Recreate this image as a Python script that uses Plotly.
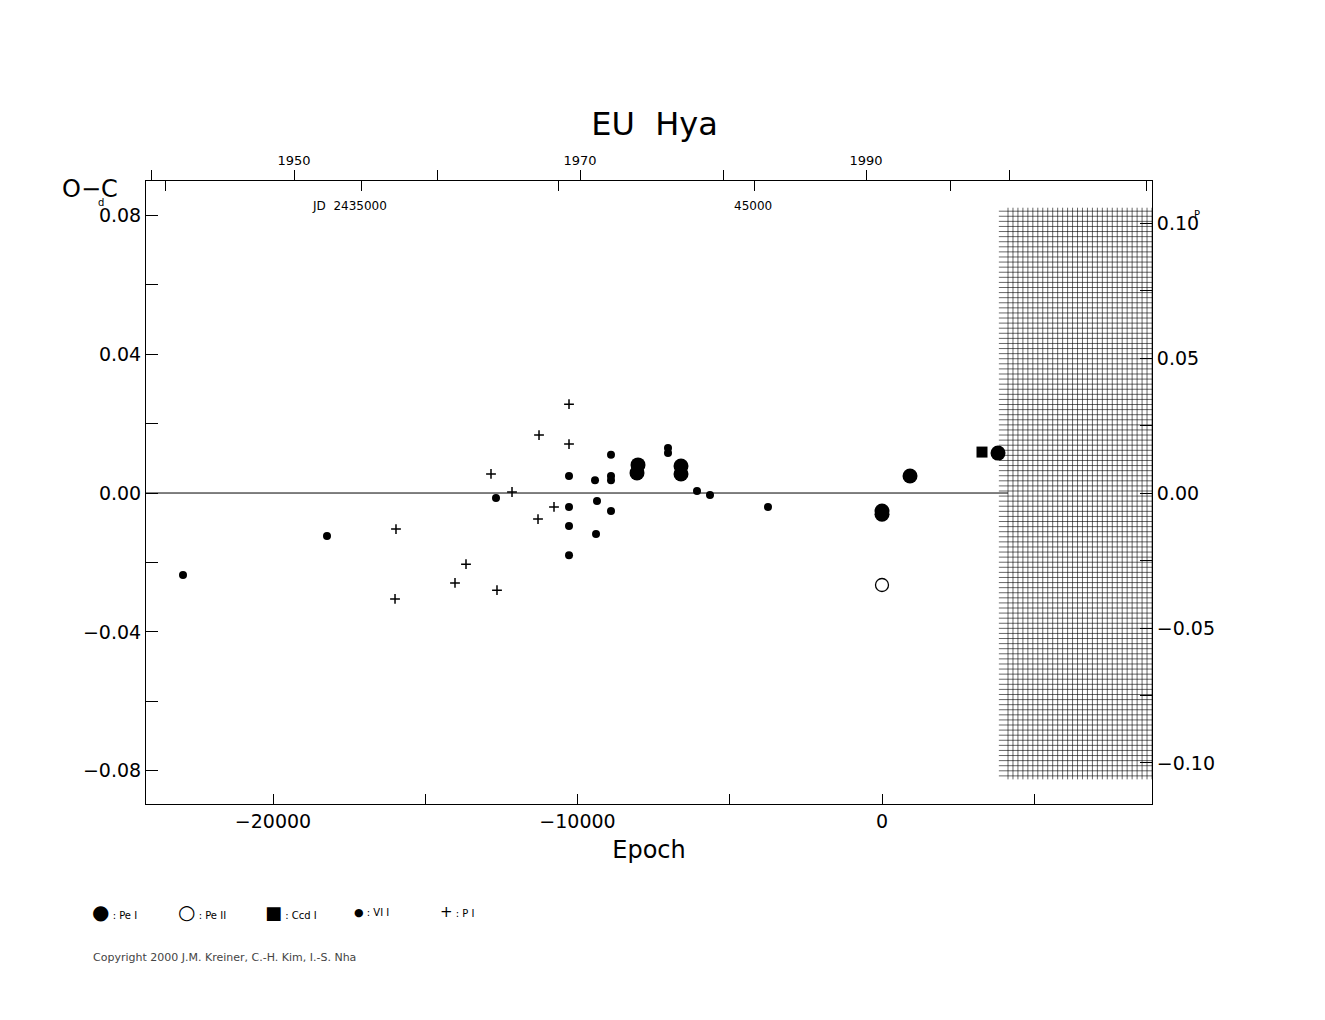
import numpy as np
import plotly.graph_objects as go

# O-C data, epoch vs O-C (days)
pe1_e = [-8046, -8013, -6601, -6601, 0, 0, 920, 3810]
pe1_oc = [0.0058, 0.0081, 0.0055, 0.0078, -0.0061, -0.0052, 0.0049, 0.0115]
pe2_e = [0]
pe2_oc = [-0.0265]
ccd_e = [3284]
ccd_oc = [0.0118]
vi_e = [-22956, -18227, -12677, -10279, -10279, -10279, -10279, -9425, -9360, -9392,
        -8900, -8900, -8900, -8900, -7028, -7028, -6076, -5649, -3744]
vi_oc = [-0.0236, -0.0124, -0.0014, 0.0049, -0.0040, -0.0095, -0.0179, 0.0037, -0.0023, -0.0118,
         0.0110, 0.0049, 0.0037, -0.0052, 0.0130, 0.0115, 0.0006, -0.0006, -0.0040]
p_e = [-10279, -10279, -11264, -12841, -12151, -10772, -11297, -15961, -13662, -14023, -12644, -15993]
p_oc = [0.0256, 0.0141, 0.0167, 0.0055, 0.0003, -0.0040, -0.0075, -0.0104, -0.0205, -0.0259, -0.0280, -0.0305]

xr = [-24171, 8867]
yr = [-0.0896, 0.0899]
font = "DejaVu Sans"

fig = go.Figure()

# hatched area (future epochs)
hx0, hx1, hy0, hy1 = 4138, 8867, -0.0815, 0.0812
gx, gy = [], []
for x in np.linspace(hx0, hx1, 30):
    gx += [x, x, None]; gy += [hy0 - 0.001, hy1 + 0.001, None]
for y in np.linspace(hy0, hy1, 112):
    gx += [hx0 - 300, hx1, None]; gy += [y, y, None]
fig.add_trace(go.Scatter(x=gx, y=gy, mode="lines", line=dict(color="black", width=0.6),
                         hoverinfo="skip", showlegend=False))

# zero line
fig.add_trace(go.Scatter(x=[xr[0], hx0], y=[0, 0], mode="lines", line=dict(color="black", width=1),
                         showlegend=False, hoverinfo="skip"))

fig.add_trace(go.Scatter(x=p_e, y=p_oc, mode="markers", name="P I",
                         marker=dict(symbol="cross-thin", size=7, line=dict(color="black", width=1.5))))
fig.add_trace(go.Scatter(x=vi_e, y=vi_oc, mode="markers", name="VI I",
                         marker=dict(symbol="circle", size=8, color="black")))
fig.add_trace(go.Scatter(x=pe1_e, y=pe1_oc, mode="markers", name="Pe I",
                         marker=dict(symbol="circle", size=15, color="black")))
fig.add_trace(go.Scatter(x=pe2_e, y=pe2_oc, mode="markers", name="Pe II",
                         marker=dict(symbol="circle-open", size=13, color="black", line=dict(width=1.3))))
fig.add_trace(go.Scatter(x=ccd_e, y=ccd_oc, mode="markers", name="Ccd I",
                         marker=dict(symbol="square", size=11, color="black")))

# secondary axes for years / JD / phase
fig.add_trace(go.Scatter(x=[1950], y=[0], xaxis="x2", yaxis="y", mode="markers", marker=dict(opacity=0), showlegend=False, hoverinfo="skip"))
fig.add_trace(go.Scatter(x=[2440000], y=[0], xaxis="x3", yaxis="y", mode="markers", marker=dict(opacity=0), showlegend=False, hoverinfo="skip"))
fig.add_trace(go.Scatter(x=[0], y=[0], xaxis="x", yaxis="y2", mode="markers", marker=dict(opacity=0), showlegend=False, hoverinfo="skip"))

axfont = dict(family=font, size=19, color="black")
fig.update_layout(
    width=1325, height=1020, plot_bgcolor="white", paper_bgcolor="white",
    margin=dict(l=138, r=181, t=173, b=224), showlegend=False,
    title=dict(text="EU  Hya", x=0.488, xanchor="center", y=0.897, font=dict(family=font, size=32, color="black")),
    xaxis=dict(range=xr, showgrid=False, zeroline=False, showline=True, linecolor="black", mirror=False,
               ticks="inside", ticklen=10, tickcolor="black",
               tickvals=[-20000, -15000, -10000, -5000, 0, 5000],
               ticktext=["\u221220000", "", "\u221210000", "", "0", ""],
               tickfont=axfont, title=dict(text="Epoch", font=dict(family=font, size=24, color="black"), standoff=10)),
    xaxis2=dict(overlaying="x", side="top", range=[1939.65, 2010.0], showgrid=False, zeroline=False,
                showline=True, linecolor="black", ticks="outside", ticklen=10, tickcolor="black",
                tickvals=[1940, 1950, 1960, 1970, 1980, 1990, 2000], ticktext=["", "1950", "", "1970", "", "1990", ""],
                tickfont=dict(family=font, size=13, color="black")),
    xaxis3=dict(overlaying="x", side="top", range=[2429490, 2455153], showgrid=False, zeroline=False,
                ticks="inside", ticklen=10, tickcolor="black", showticklabels=False,
                tickvals=[2430000, 2435000, 2440000, 2445000, 2450000, 2455000]),
    yaxis=dict(range=yr, showgrid=False, zeroline=False, showline=True, linecolor="black", mirror=False,
               ticks="inside", ticklen=12, tickcolor="black",
               tickvals=[-0.08, -0.06, -0.04, -0.02, 0, 0.02, 0.04, 0.06, 0.08],
               ticktext=["\u22120.08", "", "\u22120.04", "", "0.00", "", "0.04", "", "0.08"],
               tickfont=axfont),
    yaxis2=dict(overlaying="y", side="right", range=[-0.1152, 0.1156], showgrid=False, zeroline=False,
                showline=True, linecolor="black", ticks="inside", ticklen=12, tickcolor="black",
                tickvals=[-0.1, -0.075, -0.05, -0.025, 0, 0.025, 0.05, 0.075, 0.1],
                ticktext=["\u22120.10", "", "\u22120.05", "", "0.00", "", "0.05", "", "0.10"],
                tickfont=axfont),
)

# positions below are in reference pixels, converted to paper coords
px0, pw, py1, ph = 146, 1006, 803, 623
ann = [
    dict(x=60, y=188, text="O\u2212C", size=24),
    dict(x=96, y=202, text="d", size=10),
    dict(x=1192, y=213, text="P", size=10),
    dict(x=349, y=205, text="JD  2435000", size=12),
    dict(x=753, y=205, text="45000", size=12),
    dict(x=91, y=956, text="Copyright 2000 J.M. Kreiner, C.-H. Kim, I.-S. Nha", size=11, color="#444"),
]
for a in ann:
    xa = "center" if a["text"] in ("JD  2435000", "45000") else "left"
    fig.add_annotation(xref="paper", yref="paper",
                       x=(a["x"] - px0) / pw, y=(py1 - a["y"]) / ph,
                       text=a["text"], showarrow=False, xanchor=xa, yanchor="middle",
                       font=dict(family=font, size=a["size"], color=a.get("color", "black")))

legend = [(90, "\u25cf", 20, " : Pe I"), (176, "\u25cb", 20, " : Pe II"), (263, "\u25a0", 18, " : Ccd I"),
          (352, "\u25cf", 11, " : VI I"), (438, "+", 15, " : P I")]
for x, sym, s, lab in legend:
    fig.add_annotation(xref="paper", yref="paper", x=(x - px0) / pw, y=(py1 - 911) / ph,
                       text=f"<span style='font-size:{s}px'>{sym}</span><span style='font-size:10px'>{lab}</span>",
                       showarrow=False, xanchor="left", yanchor="middle",
                       font=dict(family=font, color="black"))

fig.write_html("out.html")
